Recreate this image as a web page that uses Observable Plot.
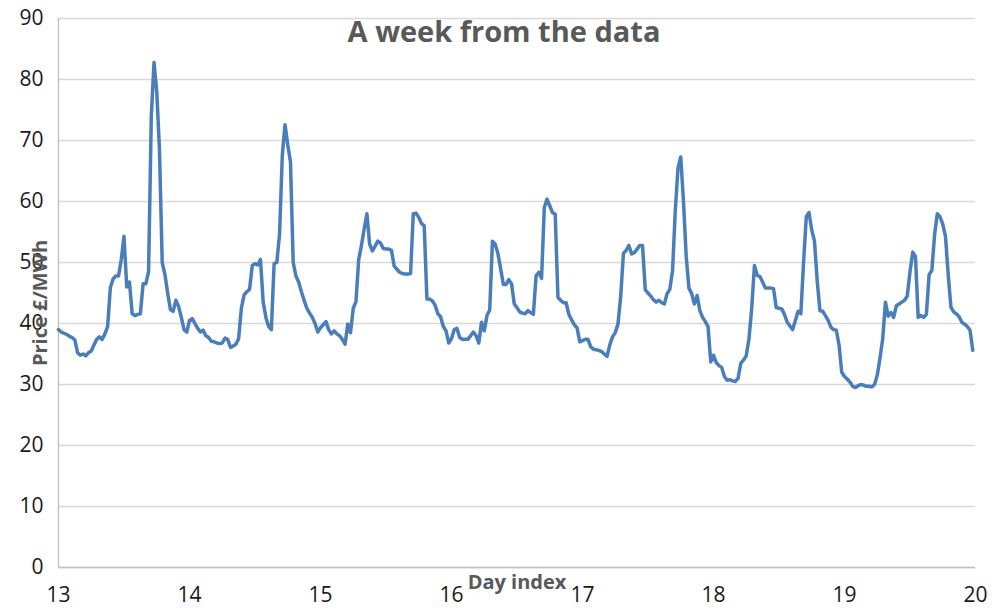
<!DOCTYPE html>
<html>
<head>
<meta charset="utf-8">
<script src="https://cdn.jsdelivr.net/npm/d3@7"></script>
<script src="https://cdn.jsdelivr.net/npm/@observablehq/plot@0.6"></script>
<style>
  html, body { margin: 0; padding: 0; background: #fff; }
  #chart svg { display: block; }
</style>
</head>
<body>
<div id="chart"></div>
<script>
// Half-hourly prices (£/MWh), 48 values per day
const day13 = [39.0,38.6,38.4,38.2,37.9,37.7,37.3,35.2,34.8,35.0,34.7,35.2,35.5,36.5,37.4,37.8,37.4,38.3,39.5,45.9,47.3,47.8,47.8,50.5,54.3,46.0,46.8,41.6,41.3,41.5,41.6,46.5,46.5,48.5,74.0,82.8,78.0,68.5,50.0,48.0,45.0,42.3,42.0,43.8,42.8,41.0,39.0,38.6];
const day14 = [40.5,40.8,40.0,39.2,38.6,38.9,38.0,37.7,37.1,37.0,36.8,36.7,36.8,37.6,37.4,36.1,36.3,36.6,37.5,42.5,44.7,45.2,45.6,49.5,49.8,49.6,50.5,43.5,41.0,39.5,39.0,49.8,50.0,54.7,67.5,72.6,69.3,66.5,50.0,47.8,46.8,45.2,43.8,42.5,41.7,41.0,40.0,38.6];
const day15 = [39.3,39.8,40.3,39.0,38.3,38.8,38.3,38.0,37.4,36.6,39.9,38.5,42.5,43.6,50.5,52.8,55.5,58.0,53.0,51.9,52.7,53.5,53.2,52.3,52.2,52.2,52.0,49.4,48.9,48.4,48.2,48.1,48.1,48.2,58.0,58.1,57.4,56.4,56.0,44.0,44.0,43.7,43.0,41.6,41.1,39.5,38.8,36.8];
const day16 = [37.5,39.0,39.2,37.7,37.4,37.4,37.4,38.0,38.6,38.0,36.8,40.2,38.8,41.3,42.2,53.5,53.0,51.5,49.0,46.4,46.4,47.2,46.5,43.2,42.6,41.9,41.7,41.6,42.1,41.8,41.5,47.8,48.4,47.4,59.0,60.4,59.3,58.2,57.9,44.3,43.8,43.4,43.4,41.5,40.6,39.8,39.3,37.0];
const day17 = [37.2,37.4,37.4,36.2,35.8,35.7,35.6,35.4,35.0,34.6,36.5,37.8,38.5,39.9,44.5,51.5,52.0,52.8,51.4,51.6,52.2,52.8,52.8,45.5,45.0,44.5,43.9,43.5,43.8,43.4,43.2,44.9,45.6,48.7,58.5,65.5,67.3,60.0,51.0,45.8,44.9,43.2,44.6,42.1,41.0,40.3,39.5,33.7];
const day18 = [34.8,33.6,33.1,32.8,31.3,30.7,30.8,30.6,30.5,31.0,33.5,34.0,34.7,37.5,42.5,49.5,47.9,47.7,46.8,45.8,45.8,45.8,45.7,42.6,42.5,42.4,41.5,40.2,39.6,39.0,40.5,42.0,41.6,50.0,57.5,58.2,55.3,53.5,47.0,42.1,42.0,41.3,40.5,39.4,39.0,38.9,36.5,32.0];
const day19 = [31.3,30.9,30.4,29.7,29.5,29.8,30.0,29.9,29.7,29.7,29.6,30.0,31.5,34.3,37.5,43.5,41.2,41.8,41.0,42.9,43.2,43.5,43.8,44.5,48.5,51.7,51.0,41.0,41.3,41.0,41.5,48.0,48.7,54.5,58.0,57.5,56.3,54.3,48.0,42.7,41.9,41.6,41.1,40.2,39.9,39.5,38.9,35.6];

const startDays = [13, 14, 15, 16, 17, 18, 19];
const dayValues = [day13, day14, day15, day16, day17, day18, day19];
const slotsPerDay = 48;

const xTicks = [13, 14, 15, 16, 17, 18, 19, 20];
const yTicks = [0, 10, 20, 30, 40, 50, 60, 70, 80, 90];

const titleText = "A week from the data";
const xLabel = "Day index";
const yLabel = "Price £/MWh";

const data = [];
startDays.forEach((d, i) => {
  dayValues[i].forEach((v, k) => data.push({day: d + k / slotsPerDay, price: v}));
});

const font = "'Open Sans', 'Liberation Sans', sans-serif";

const chart = Plot.plot({
  width: 992,
  height: 611,
  marginLeft: 58,
  marginRight: 17,
  marginTop: 18,
  marginBottom: 44,
  style: {fontFamily: font, fontSize: "21px", color: "#1a1a1a", background: "#fff"},
  x: {domain: [13, 20]},
  y: {domain: [0, 90]},
  marks: [
    Plot.gridY(yTicks, {stroke: "#d9d9d9", strokeOpacity: 1, strokeWidth: 1.3}),
    Plot.ruleY([0], {stroke: "#bfbfbf", strokeWidth: 1.3}),
    Plot.ruleX([13], {stroke: "#bfbfbf", strokeWidth: 1.3}),
    Plot.axisX(xTicks, {tickSize: 0, tickPadding: 20, label: null, tickFormat: d => String(d), fill: "#1a1a1a"}),
    Plot.axisY(yTicks, {tickSize: 0, tickPadding: 15, label: null, fill: "#1a1a1a"}),
    Plot.line(data, {x: "day", y: "price", stroke: "#4A7EBB", strokeWidth: 3.5, strokeLinejoin: "round", strokeLinecap: "round"}),
    Plot.text([titleText], {frameAnchor: "top", dx: -13, dy: 14, fontSize: 29, fontWeight: "bold", fill: "#595959", lineAnchor: "middle", textAnchor: "middle"}),
    Plot.text([xLabel], {frameAnchor: "bottom", dy: 15, fontSize: 20, fontWeight: "bold", fill: "#595959", lineAnchor: "middle", textAnchor: "middle"}),
    Plot.text([yLabel], {frameAnchor: "left", dx: -18, dy: 10, rotate: -90, fontSize: 20, fontWeight: "bold", fill: "#595959", lineAnchor: "middle", textAnchor: "middle"})
  ]
});

document.getElementById("chart").appendChild(chart);
</script>
</body>
</html>
